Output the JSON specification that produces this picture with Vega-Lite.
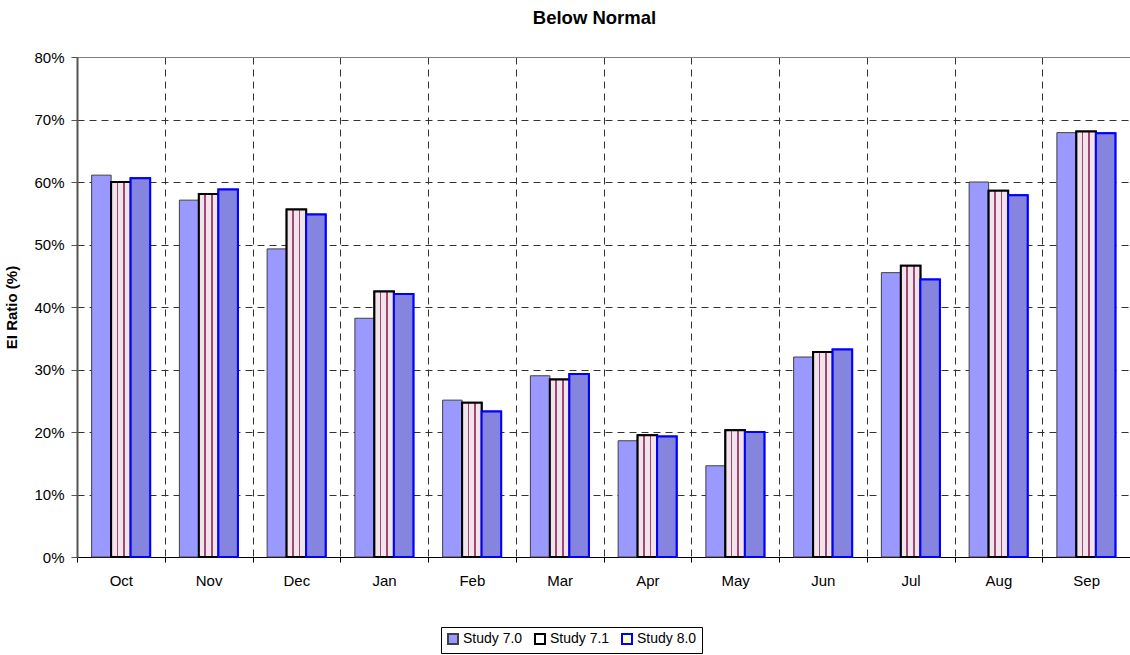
{
  "$schema": "https://vega.github.io/schema/vega-lite/v6.json",
  "autosize": {"type": "none"},
  "padding": {"left": 77, "top": 57, "right": 0, "bottom": 98},
  "width": 1053,
  "height": 500,
  "background": "white",
  "config": {"font": "Liberation Sans", "view": {"stroke": null}},
  "title": {"text": "Below Normal", "fontSize": 18.5, "fontWeight": "bold", "color": "#000000", "anchor": "middle", "frame": "group", "dx": -9, "offset": 23},
  "data": {"values": [
    {"month": "Oct", "series": "Study 7.0", "value": 0.611},
    {"month": "Oct", "series": "Study 7.1", "value": 0.600},
    {"month": "Oct", "series": "Study 8.0", "value": 0.606},
    {"month": "Nov", "series": "Study 7.0", "value": 0.571},
    {"month": "Nov", "series": "Study 7.1", "value": 0.581},
    {"month": "Nov", "series": "Study 8.0", "value": 0.588},
    {"month": "Dec", "series": "Study 7.0", "value": 0.493},
    {"month": "Dec", "series": "Study 7.1", "value": 0.556},
    {"month": "Dec", "series": "Study 8.0", "value": 0.548},
    {"month": "Jan", "series": "Study 7.0", "value": 0.382},
    {"month": "Jan", "series": "Study 7.1", "value": 0.425},
    {"month": "Jan", "series": "Study 8.0", "value": 0.421},
    {"month": "Feb", "series": "Study 7.0", "value": 0.251},
    {"month": "Feb", "series": "Study 7.1", "value": 0.247},
    {"month": "Feb", "series": "Study 8.0", "value": 0.233},
    {"month": "Mar", "series": "Study 7.0", "value": 0.290},
    {"month": "Mar", "series": "Study 7.1", "value": 0.284},
    {"month": "Mar", "series": "Study 8.0", "value": 0.293},
    {"month": "Apr", "series": "Study 7.0", "value": 0.186},
    {"month": "Apr", "series": "Study 7.1", "value": 0.195},
    {"month": "Apr", "series": "Study 8.0", "value": 0.193},
    {"month": "May", "series": "Study 7.0", "value": 0.146},
    {"month": "May", "series": "Study 7.1", "value": 0.203},
    {"month": "May", "series": "Study 8.0", "value": 0.200},
    {"month": "Jun", "series": "Study 7.0", "value": 0.320},
    {"month": "Jun", "series": "Study 7.1", "value": 0.328},
    {"month": "Jun", "series": "Study 8.0", "value": 0.332},
    {"month": "Jul", "series": "Study 7.0", "value": 0.455},
    {"month": "Jul", "series": "Study 7.1", "value": 0.466},
    {"month": "Jul", "series": "Study 8.0", "value": 0.444},
    {"month": "Aug", "series": "Study 7.0", "value": 0.600},
    {"month": "Aug", "series": "Study 7.1", "value": 0.586},
    {"month": "Aug", "series": "Study 8.0", "value": 0.579},
    {"month": "Sep", "series": "Study 7.0", "value": 0.679},
    {"month": "Sep", "series": "Study 7.1", "value": 0.681},
    {"month": "Sep", "series": "Study 8.0", "value": 0.678}
  ]},
  "encoding": {
    "x": {
      "field": "month", "type": "nominal",
      "sort": ["Oct", "Nov", "Dec", "Jan", "Feb", "Mar", "Apr", "May", "Jun", "Jul", "Aug", "Sep"],
      "scale": {"paddingInner": 0, "paddingOuter": 0},
      "axis": {
        "title": null, "tickBand": "extent", "grid": true, "gridColor": "#333333", "gridDash": [7, 5],
        "domainColor": "#000000", "tickColor": "#000000", "tickSize": 5,
        "labelFontSize": 15, "labelColor": "#000000", "labelPadding": 11, "labelAngle": 0
      }
    },
    "xOffset": {
      "field": "series", "type": "nominal",
      "scale": {"domain": ["Study 7.0", "Study 7.1", "Study 8.0"], "paddingInner": 0, "paddingOuter": 0.75}
    },
    "y": {
      "field": "value", "type": "quantitative",
      "scale": {"domain": [0, 0.8], "nice": false, "zero": true},
      "axis": {
        "title": "EI Ratio (%)", "values": [0, 0.1, 0.2, 0.3, 0.4, 0.5, 0.6, 0.7, 0.8], "format": ".0%",
        "grid": true,
        "gridColor": {"condition": {"test": "datum.value >= 0.79", "value": "#808080"}, "value": "#333333"},
        "gridDash": {"condition": {"test": "datum.value >= 0.79", "value": []}, "value": [7, 5]},
        "domainColor": "#555555", "domainWidth": 2, "tickColor": "#555555", "tickSize": 6,
        "labelPadding": 7, "labelFontSize": 15, "labelColor": "#000000",
        "titleFontSize": 15, "titleFontWeight": "bold", "titleColor": "#000000", "titlePadding": 14
      }
    }
  },
  "layer": [
    {
      "mark": {"type": "bar"},
      "encoding": {
        "fill": {
          "field": "series", "type": "nominal",
          "scale": {"domain": ["Study 7.0", "Study 7.1", "Study 8.0"], "range": ["#9999FF", "#FFFFFF", "#FFFFCC"]},
          "legend": {"orient": "none", "legendX": 364, "legendY": 570, "direction": "horizontal", "title": null,
            "symbolType": "square", "symbolSize": 100, "symbolStrokeWidth": 2, "labelFontSize": 14, "labelColor": "#000000",
            "strokeColor": "#000000", "fillColor": "#FFFFFF", "padding": 5, "columnPadding": 8, "labelOffset": 3}
        },
        "stroke": {
          "field": "series", "type": "nominal",
          "scale": {"domain": ["Study 7.0", "Study 7.1", "Study 8.0"], "range": ["#404040", "#000000", "#0000FF"]},
          "legend": {"orient": "none", "legendX": 364, "legendY": 570, "direction": "horizontal", "title": null,
            "symbolType": "square", "symbolSize": 100, "symbolStrokeWidth": 2, "labelFontSize": 14, "labelColor": "#000000",
            "strokeColor": "#000000", "fillColor": "#FFFFFF", "padding": 5, "columnPadding": 8, "labelOffset": 3}
        },
        "strokeWidth": {"condition": {"test": "datum.series === 'Study 7.0'", "value": 1}, "value": 2}
      }
    },
    {
      "transform": [{"filter": "datum.series === 'Study 7.1'"}],
      "mark": {
        "type": "bar", "stroke": "#000000", "strokeWidth": 2,
        "fill": {"gradient": "linear", "x1": 0, "y1": 0, "x2": 1, "y2": 0, "stops": [
          {"offset": 0, "color": "#F2E4EB"}, {"offset": 0.28, "color": "#F2E4EB"},
          {"offset": 0.28, "color": "#A04775"}, {"offset": 0.36, "color": "#A04775"},
          {"offset": 0.36, "color": "#F2E4EB"}, {"offset": 0.62, "color": "#F2E4EB"},
          {"offset": 0.62, "color": "#A04775"}, {"offset": 0.70, "color": "#A04775"},
          {"offset": 0.70, "color": "#F2E4EB"}, {"offset": 1, "color": "#F2E4EB"}
        ]}
      }
    },
    {
      "transform": [{"filter": "datum.series === 'Study 8.0'"}],
      "mark": {"type": "bar", "fill": "#8585E0", "stroke": "#0000FF", "strokeWidth": 2}
    }
  ]
}
